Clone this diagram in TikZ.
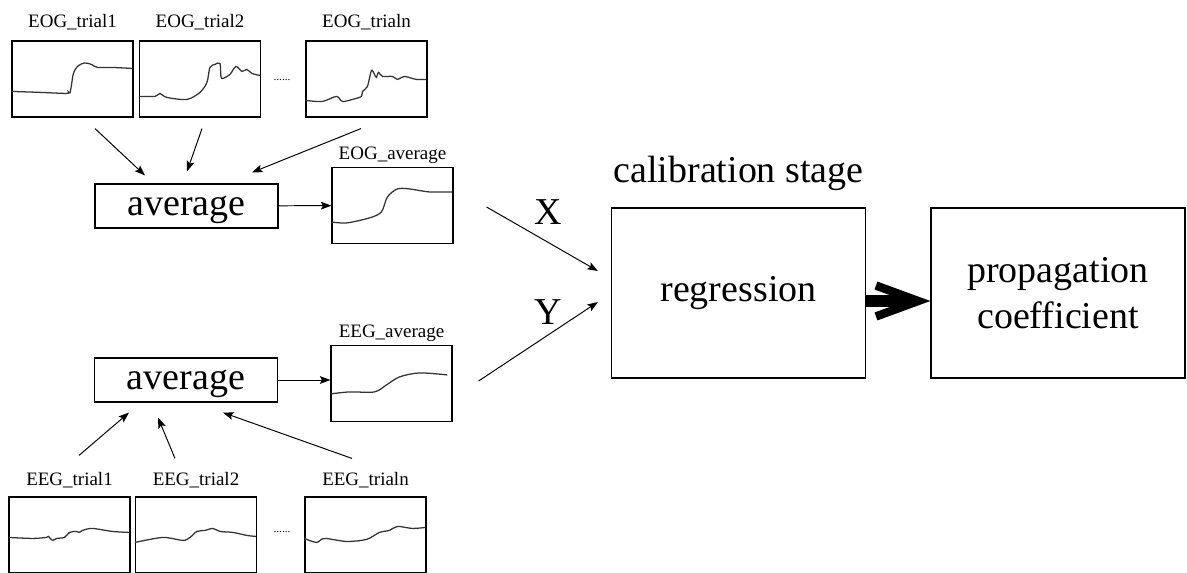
\documentclass[tikz,border=0pt]{standalone}
\usepackage{fontspec}
\setmainfont{Liberation Serif}
\usetikzlibrary{positioning,arrows.meta}

\begin{document}
\begin{tikzpicture}[x=0.025cm, y=-0.025cm,
	sig/.style={draw, line width=0.8pt, minimum width=3.025cm, minimum height=1.9cm, inner sep=0pt},
	avgbox/.style={draw, line width=0.8pt, minimum width=4.575cm, minimum height=1.1cm, inner sep=0pt, text depth=0pt, font=\fontsize{27}{31}\selectfont},
	stagebox/.style={draw, line width=0.8pt, minimum width=6.35cm, minimum height=4.25cm, align=center, font=\fontsize{27}{33}\selectfont},
	lab/.style={inner sep=0pt, font=\fontsize{13.5}{16}\selectfont},
	big/.style={inner sep=0pt, font=\fontsize{27}{31}\selectfont},
	trace/.style={line width=0.9pt, black!80},
	arr/.style={line width=0.7pt, -{Stealth[length=7.5pt, width=5.5pt, inset=1.5pt]}},
	bigarr/.style={line width=8.5pt, -{Straight Barb[length=30pt, width=22pt, line width=6pt]}}
	]
	\clip (0,0) rectangle (1187,572);
	
	% signal windows with their titles
	\foreach \name/\x/\y/\txt/\gap in {
		eog1/72.5/79/EOG\_trial1/7.5pt,
		eog2/200/79/EOG\_trial2/7.5pt,
		eog3/366.5/79/EOG\_trialn/7.5pt,
		eogavg/392.5/205.5/EOG\_average/2.5pt,
		eegavg/391.5/383.5/EEG\_average/2pt,
		eeg1/69.5/535/EEG\_trial1/6pt,
		eeg2/196/535/EEG\_trial2/6pt,
		eeg3/365.5/535/EEG\_trialn/6pt
	}
	{
		\node [sig] (\name) at (\x,\y) {};
		\node [lab, above=\gap of \name] (\name lab) {\txt};
	}
	\node [lab, font=\fontsize{8}{9}\selectfont] (dots1) at (282,80) {......};
	\node [lab, font=\fontsize{8}{9}\selectfont] (dots2) at (282,532) {......};
	
	% traces
	\draw [trace, shift={(eog1.north west)}] plot [smooth] coordinates {(0,51) (30,52) (55,53) (57,51.5) (58.5,52.5) (60,45) (62,33) (66,26) (73,22.5) (80,24) (86,27) (100,27) (121,28)};
	\draw [trace, shift={(eog2.north west)}] plot [smooth] coordinates {(0,56) (16,56) (21,53) (28,57) (48,59) (61,52) (68,42) (71,27) (76,24) (81,23) (82,36) (84,38) (91,34) (97,26) (103,31) (108,29) (113,33) (121,35)};
	\draw [trace, shift={(eog3.north west)}] plot [smooth] coordinates {(0,60) (17,61) (31,56) (37,61) (47,59) (56,56) (57,51) (62,46) (66,30) (69,34) (71,37) (73,32) (77,36) (87,36) (92,39) (99,36) (111,39) (121,39)};
	\draw [trace, shift={(eogavg.north west)}] plot [smooth] coordinates {(0,55) (15,56) (38,51) (50,45) (56,30) (66,22) (78,22) (98,25) (121,25)};
	\draw [trace, shift={(eegavg.north west)}] plot [smooth] coordinates {(0,49) (19,47) (44,47) (56,40) (69,32) (89,28) (117,30)};
	\draw [trace, shift={(eeg1.north west)}] plot [smooth] coordinates {(0,41) (24,42) (38,41) (40,40) (44,44) (48,42) (56,41) (61,36) (68,35) (71,36) (74,34) (84,32) (104,35) (121,36)};
	\draw [trace, shift={(eeg2.north west)}] plot [smooth] coordinates {(0,46) (28,41) (48,44) (55,41) (62,35) (70,34) (78,32) (85,35) (98,36) (112,39) (121,40)};
	\draw [trace, shift={(eeg3.north west)}] plot [smooth] coordinates {(0,42) (12,46) (20,42) (42,45) (62,43) (75,36) (85,34) (93,30) (108,32) (121,31)};
	
	% averaging and regression blocks
	\node [avgbox] (avg1) at (186.5,206) {average};
	\node [avgbox] (avg2) at (186,380) {average};
	\node [stagebox] (reg) at (738.5,293) {regression};
	\node [stagebox] (prop) at (1058,293) {propagation\\coefficient};
	\node [big, above=12pt of reg] (stage) {calibration stage};
	
	% connectors
	\draw [arr] ([shift={(22.5,11)}]eog1.south) -- ([shift={(-41.5,-8)}]avg1.north);
	\draw [arr] ([shift={(2,11)}]eog2.south) -- ([shift={(0.5,-12)}]avg1.north);
	\draw [arr] ([shift={(-5.5,11)}]eog3.south) -- ([shift={(65.5,-11)}]avg1.north);
	\draw [arr] (avg1) -- (eogavg);
	
	\draw [arr] ([shift={(9.5,-41)}]eeg1.north) -- ([shift={(-57,10)}]avg2.south);
	\draw [arr] ([shift={(-21,-38)}]eeg2.north) -- ([shift={(-28,15)}]avg2.south);
	\draw [arr] ([shift={(-13.5,-38)}]eeg3.north) -- ([shift={(37,10)}]avg2.south);
	\draw [arr] (avg2.east) -- (avg2.east -| eegavg.west);
	
	\draw [arr] ([shift={(33,1.5)}]eogavg.east) -- ([shift={(-13,-22)}]reg.west) node [big, pos=0.55, above=12pt] (xlab) {X};
	\draw [arr] ([shift={(26,-2.5)}]eegavg.east) -- ([shift={(-13,9)}]reg.west) node [big, pos=0.58, above=7pt] (ylab) {Y};
	\draw [bigarr] ([shift={(0,8)}]reg.east) -- ([shift={(0,8)}]prop.west);
\end{tikzpicture}
\end{document}
